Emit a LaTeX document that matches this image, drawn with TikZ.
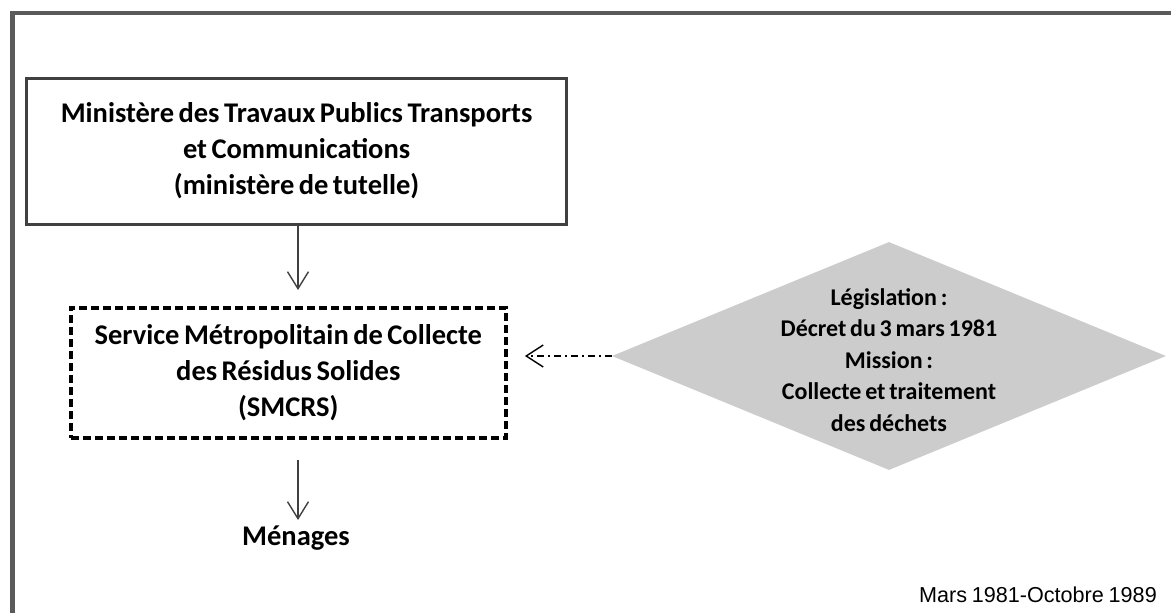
\documentclass[tikz,border=0pt]{standalone}
\usepackage{fontspec}
\setmainfont{Carlito}[WordSpace=0.7]
\newfontfamily\datefont{Liberation Sans}[WordSpace=0.8]
\usetikzlibrary{arrows.meta,shapes.geometric}
\definecolor{framegray}{HTML}{5A5A5A}
\definecolor{boxgray}{HTML}{404040}
\definecolor{diafill}{HTML}{CCCCCC}
\tikzset{
  bigtext/.style={font=\fontsize{28.5}{36}\selectfont\bfseries, align=center},
  solidbox/.style={draw=boxgray, line width=3pt, rectangle, inner sep=0pt},
  dashbox/.style={draw=black, line width=4pt, rectangle, inner sep=0pt, dash pattern=on 8pt off 4pt},
  vee/.style={-{Straight Barb[length=17pt,width=21pt]}, line width=1.4pt, draw=boxgray},
  dashdot/.style={-{Straight Barb[length=17pt,width=22pt]}, line width=1.4pt, draw=black, dash pattern=on 7pt off 4pt on 2pt off 4pt},
}
\begin{document}
\begin{tikzpicture}[x=1pt,y=-1pt]
\useasboundingbox (0,0) rectangle (1171,613);
\clip (0,0) rectangle (1171,613);
\fill[white] (0,0) rectangle (1171,613);
\draw[framegray, line width=4.5pt] (12.5,13) rectangle (1190,640);
\node[solidbox, minimum width=539.7pt, minimum height=146pt, bigtext] (box1) at (296.6,151)
  {Ministère des Travaux Publics Transports\\et Communications\\(ministère de tutelle)};
\node[dashbox, minimum width=435.3pt, minimum height=130pt, bigtext] (box2) at (288.3,372.5)
  {Service Métropolitain de Collecte\\des Résidus Solides\\(SMCRS)};
\node[diamond, fill=diafill, minimum width=554pt, minimum height=228pt, inner sep=0pt] (dia) at (889,356) {};
\node[font=\fontsize{24}{31.5}\selectfont\bfseries, align=center] (diatext) at (889,360)
  {Législation :\\Décret du 3 mars 1981\\Mission :\\Collecte et traitement\\des déchets};
\node[bigtext, inner sep=0pt, anchor=base] (men) at (296,545.7) {Ménages};
\node[font=\datefont\fontsize{21.6}{24}\selectfont, anchor=east, inner sep=0pt] (date) at (1157,595) {Mars 1981-Octobre 1989};
\coordinate (a1s) at (298,0);
\coordinate (a2end) at (298,520);
\draw[vee, shorten >=15.5pt] (box1.south -| a1s) -- (box2.north -| a1s);
\draw[vee, shorten <=20pt] (box2.south -| a1s) -- (a2end);
\draw[dashdot, shorten >=17pt] (dia.west) -- (dia.west -| box2.east);
\end{tikzpicture}
\end{document}
